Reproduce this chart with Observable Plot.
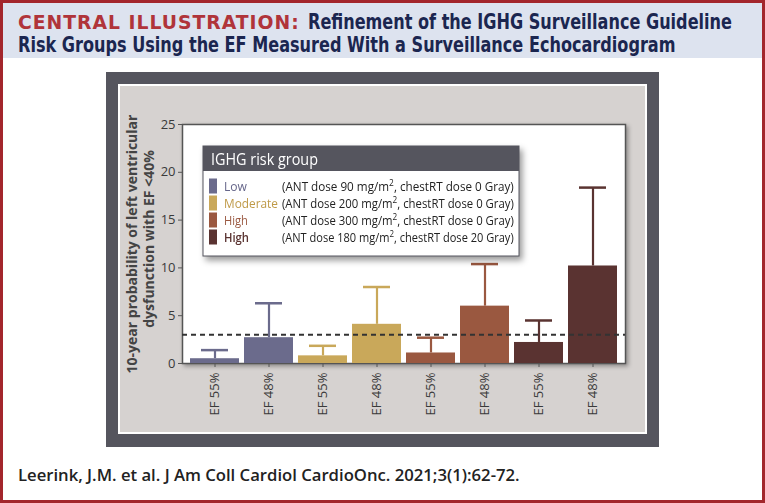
<!DOCTYPE html>
<html>
<head>
<meta charset="utf-8">
<script src="https://cdn.jsdelivr.net/npm/d3@7"></script>
<script src="https://cdn.jsdelivr.net/npm/@observablehq/plot@0.6"></script>
<style>
  html, body { margin: 0; padding: 0; background: #fff; }
  #page { position: relative; width: 765px; height: 503px; overflow: hidden; background: #fff; }
  .abs { position: absolute; }
  #header { left: 0; top: 0; width: 765px; height: 58px; background: #dde3ef; }
  #darkpanel { left: 106px; top: 72px; width: 553px; height: 375px; background: #55555e; }
  #innerpanel { left: 118px; top: 84px; width: 529px; height: 350px; background: #d6d2d0; box-sizing: border-box; border: 2px solid #fff; }
  #chart { left: 119px; top: 85px; }
  #overlay { left: 0; top: 0; }
  #border { left: 0; top: 0; width: 765px; height: 503px; box-sizing: border-box; border: 3px solid #a3262c; pointer-events: none; }
</style>
</head>
<body>
<div id="page">
  <div id="header" class="abs"></div>
  <div id="darkpanel" class="abs"></div>
  <div id="innerpanel" class="abs"></div>
  <div id="chart" class="abs"></div>
  <svg id="overlay" class="abs" width="765" height="503"></svg>
  <div id="border" class="abs"></div>
</div>
<script>
// ---- data ----
const titleRed = "CENTRAL ILLUSTRATION:";
const titleLine1 = "Refinement of the IGHG Surveillance Guideline";
const titleLine2 = "Risk Groups Using the EF Measured With a Surveillance Echocardiogram";
const citation = "Leerink, J.M. et al. J Am Coll Cardiol CardioOnc. 2021;3(1):62-72.";
const legendTitle = "IGHG risk group";
const riskGroups = ["Low", "Moderate", "High", "High"];
const antDose = [90, 200, 300, 180];      // mg/m2
const chestRTDose = [0, 0, 0, 20];        // Gray
const efLevels = ["EF 55%", "EF 48%"];
// 10-year probability (%) per group, per EF level
const probability = [[0.5, 2.7], [0.8, 4.1], [1.1, 6.0], [2.2, 10.2]];
// upper bound of confidence interval (%)
const upperCI = [[1.4, 6.3], [1.85, 8.0], [2.7, 10.4], [4.5, 18.4]];
const threshold = [3];
const yTicks = [0, 5, 10, 15, 20, 25];
const yTitleLines = ["10-year probability of left ventricular", "dysfunction with EF <40%"];

// styles
const groupColors = ["#6b6b8c", "#c9a85a", "#9a5840", "#5a3331"];
const nameColors = ["#66668a", "#bf9a48", "#9a5840", "#5a3331"];

// ---- build table ----
const rows = [];
riskGroups.forEach((g, i) => {
  efLevels.forEach((ef, j) => {
    rows.push({ id: i + "-" + j, group: i, ef, value: probability[i][j], upper: upperCI[i][j] });
  });
});
const ids = rows.map(d => d.id);
const labelOf = new Map(rows.map(d => [d.id, d.ef]));

const chart = Plot.plot({
  width: 527,
  height: 348,
  marginLeft: 63,
  marginTop: 39,
  marginRight: 21,
  marginBottom: 70,
  style: { background: "transparent", fontFamily: "'Open Sans', sans-serif", fontSize: "13px", color: "#3a3a3a" },
  x: { domain: ids, padding: 0.09, paddingOuter: 0.14 },
  y: { domain: [0, 25] },
  color: { domain: [0, 1, 2, 3], range: groupColors },
  marks: [
    Plot.frame({ fill: "white", stroke: "#555", strokeWidth: 1.5, ariaLabel: "plotframe" }),
    Plot.ruleX(rows, { x: "id", y1: "value", y2: "upper", stroke: d => d.group, strokeWidth: 2.2 }),
    Plot.tickY(rows, { x: "id", y: "upper", stroke: d => d.group, strokeWidth: 2.5, insetLeft: 11, insetRight: 11 }),
    Plot.barY(rows, { x: "id", y: "value", fill: d => d.group }),
    Plot.ruleY(threshold, { stroke: "#333", strokeWidth: 2, strokeDasharray: "5,4" }),
    Plot.axisY({ ticks: yTicks, tickSize: 4, tickPadding: 3, label: null, fontSize: 13, stroke: "#555" }),
    Plot.axisX({ tickFormat: d => labelOf.get(d), tickRotate: -90, tickSize: 4, tickPadding: 5, label: null, fontSize: 13, stroke: "#555" }),
    Plot.text([yTitleLines[0]], { frameAnchor: "left", textAnchor: "middle", dx: -50, dy: 0, rotate: -90, text: d => d, fontWeight: "bold", fontSize: 14, fill: "#444", ariaLabel: "ytitle1" }),
    Plot.text([yTitleLines[1]], { frameAnchor: "left", textAnchor: "middle", dx: -33, dy: -5, rotate: -90, text: d => d, fontWeight: "bold", fontSize: 14, fill: "#444", ariaLabel: "ytitle2" })
  ]
});
document.getElementById("chart").appendChild(chart);
const fr = chart.querySelector('g[aria-label="plotframe"] rect') || chart.querySelector('[aria-label="plotframe"]');
if (fr) fr.style.filter = "drop-shadow(2px 2px 2px rgba(0,0,0,0.35))";
[["ytitle1", 245], ["ytitle2", 160]].forEach(([k, len]) => {
  const t = chart.querySelector(`g[aria-label="${k}"] text`);
  if (t) { t.setAttribute("textLength", len); t.setAttribute("lengthAdjust", "spacingAndGlyphs"); }
});

// ---- overlay texts (title, legend, citation) ----
const NS = "http://www.w3.org/2000/svg";
const overlay = document.getElementById("overlay");
function el(tag, attrs, parent) {
  const e = document.createElementNS(NS, tag);
  for (const k in attrs) e.setAttribute(k, attrs[k]);
  (parent || overlay).appendChild(e);
  return e;
}
function fitText(parent, x, y, width, parts, style) {
  const g = el("g", {}, parent);
  const t = el("text", { x: 0, y: 0 }, g);
  Object.assign(t.style, style);
  parts.forEach(p => {
    const s = el("tspan", p.attrs || {}, t);
    s.textContent = p.text;
    if (p.style) Object.assign(s.style, p.style);
  });
  const w = t.getComputedTextLength();
  g.setAttribute("transform", `translate(${x},${y}) scale(${width / w},1)`);
  return g;
}

const titleFont = { fontFamily: "'Liberation Sans Narrow', 'DejaVu Sans Condensed', Roboto, sans-serif", fontWeight: "bold", fontSize: "21px" };
fitText(overlay, 18, 29, 282, [{ text: titleRed }], { ...titleFont, fill: "#b0343a", fontFamily: "'DejaVu Sans', sans-serif", fontSize: "19px", letterSpacing: "1px" });
fitText(overlay, 308, 29, 424, [{ text: titleLine1 }], { ...titleFont, fill: "#1b2650" });
fitText(overlay, 18, 52, 658, [{ text: titleLine2 }], { ...titleFont, fill: "#1b2650" });
fitText(overlay, 18, 481, 502, [{ text: citation }], { fontFamily: "'Open Sans', sans-serif", fontWeight: "600", fontSize: "17px", fill: "#222" });

// legend
const lg = el("g", {});
lg.style.filter = "drop-shadow(3px 4px 3px rgba(0,0,0,0.4))";
el("rect", { x: 203, y: 146, width: 316, height: 110, fill: "#fff", stroke: "#55555e", "stroke-width": 1 }, lg);
el("rect", { x: 203, y: 146, width: 316, height: 25, fill: "#55555e" }, lg);
fitText(lg, 211, 164.5, 107, [{ text: legendTitle }], { fontFamily: "'Open Sans', sans-serif", fontSize: "17px", fill: "#fff" });
const nameWidths = [23, 54, 24, 25];
riskGroups.forEach((g, i) => {
  const cy = 186 + i * 17;
  el("rect", { x: 209, y: cy - 7.5, width: 8, height: 15, fill: groupColors[i] }, lg);
  fitText(lg, 224, cy + 4.5, nameWidths[i], [{ text: g }], { fontFamily: "'Open Sans', sans-serif", fontSize: "13px", fill: nameColors[i], fontWeight: i === 3 ? "600" : "normal" });
  fitText(lg, 282, cy + 4.5, 232, [
    { text: `(ANT dose ${antDose[i]} mg/m` },
    { text: "2", attrs: { dy: -5 }, style: { fontSize: "9px" } },
    { text: `, chestRT dose ${chestRTDose[i]} Gray)`, attrs: { dy: 5 } }
  ], { fontFamily: "'Open Sans', sans-serif", fontSize: "12.5px", fill: "#222" });
});
</script>
</body>
</html>
